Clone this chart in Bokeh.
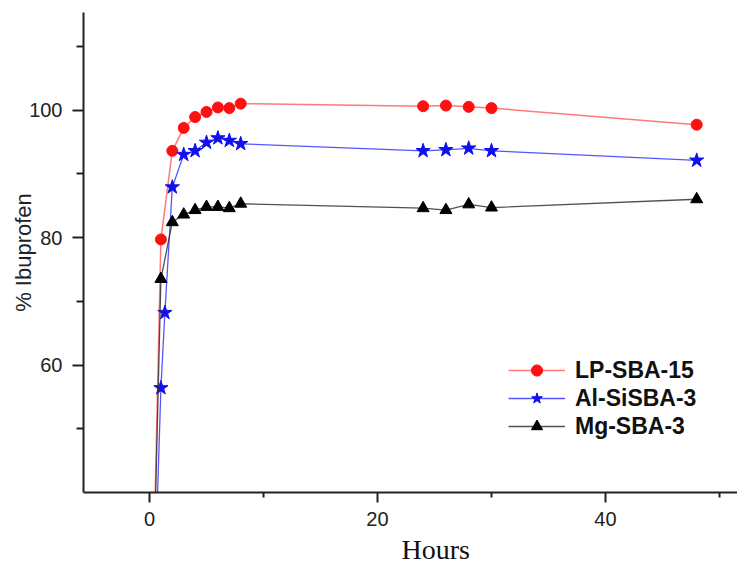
from bokeh.plotting import figure
from bokeh.models import Range1d, FixedTicker, Legend, LegendItem, Title
from bokeh.embed import file_html
from bokeh.resources import INLINE

# ---- data ----
hours_lp = [0, 1, 2, 3, 4, 5, 6, 7, 8, 24, 26, 28, 30, 48]
lp_sba15 = [0, 79.7, 93.6, 97.2, 98.9, 99.7, 100.4, 100.3, 101.0, 100.6, 100.7, 100.5, 100.3, 97.7]

hours_al = [0, 1, 1.35, 2, 3, 4, 5, 6, 7, 8, 24, 26, 28, 30, 48]
al_sisba3 = [0, 56.4, 68.2, 87.9, 93.0, 93.6, 94.9, 95.6, 95.2, 94.7, 93.6, 93.75, 94.0, 93.6, 92.1]

hours_mg = [0, 1, 2, 3, 4, 5, 6, 7, 8, 24, 26, 28, 30, 48]
mg_sba3 = [0, 73.5, 82.4, 83.6, 84.3, 84.8, 84.8, 84.6, 85.3, 84.6, 84.3, 85.2, 84.7, 86.0]

x_major = [0, 20, 40]
x_minor = [10, 30, 50]
y_major = [60, 80, 100]
y_minor = [50, 70, 90, 110]

# ---- figure ----
p = figure(width=737, height=567, output_backend="svg", toolbar_location=None,
           x_range=Range1d(-5.79, 51.58), y_range=Range1d(40, 115.3),
           min_border_left=83, min_border_top=12, min_border_right=0, min_border_bottom=73)
p.outline_line_color = None
p.grid.visible = False
p.background_fill_color = "white"

r_line = p.line(hours_lp, lp_sba15, line_color="#ff5a5a", line_width=1.5, line_alpha=0.8)
r_pts = p.scatter(hours_lp, lp_sba15, marker="circle", size=11, fill_color="#ff1010", line_color="#ff1010")

b_line = p.line(hours_al, al_sisba3, line_color="#2a2aff", line_width=1.3, line_alpha=0.8)
b_pts = p.scatter(hours_al, al_sisba3, marker="star", size=15, fill_color="#1010ee", line_color="#1010ee")

k_line = p.line(hours_mg, mg_sba3, line_color="#333333", line_width=1.3, line_alpha=0.85)
k_pts = p.scatter(hours_mg, mg_sba3, marker="triangle", size=12, fill_color="#000000", line_color="#000000")

for ax in (p.xaxis[0], p.yaxis[0]):
    ax.axis_line_width = 2
    ax.axis_line_color = "#222222"
    ax.major_tick_line_color = "#222222"
    ax.minor_tick_line_color = "#222222"
    ax.major_tick_line_width = 2
    ax.minor_tick_line_width = 2
    ax.major_tick_in = 0
    ax.minor_tick_in = 0
    ax.major_label_text_font = "Liberation Sans"
    ax.major_label_text_font_size = "20px"
    ax.major_label_text_color = "#222222"

p.xaxis.ticker = FixedTicker(ticks=x_major, minor_ticks=x_minor)
p.yaxis.ticker = FixedTicker(ticks=y_major, minor_ticks=y_minor)
p.xaxis.major_tick_out = 10
p.xaxis.minor_tick_out = 5
p.yaxis.major_tick_out = 11
p.yaxis.minor_tick_out = 7
p.xaxis.major_label_standoff = 9
p.yaxis.major_label_standoff = 10

p.yaxis.axis_label = "% Ibuprofen"
p.yaxis.axis_label_text_font = "Liberation Sans"
p.yaxis.axis_label_text_font_size = "22px"
p.yaxis.axis_label_text_font_style = "normal"
p.yaxis.axis_label_text_color = "#222222"
p.yaxis.axis_label_standoff = -10

t = Title(text="Hours", align="left", offset=318, text_font="Liberation Serif",
          text_font_size="28px", text_font_style="normal", text_color="#111111", standoff=6)
p.add_layout(t, "below")

legend = Legend(items=[LegendItem(label="LP-SBA-15", renderers=[r_line, r_pts]),
                       LegendItem(label="Al-SiSBA-3", renderers=[b_line, b_pts]),
                       LegendItem(label="Mg-SBA-3", renderers=[k_line, k_pts])],
                location=(425, 52), glyph_width=57, glyph_height=28, label_height=28,
                spacing=0, padding=0, margin=0, label_standoff=10,
                label_text_font="Liberation Sans", label_text_font_size="23px",
                label_text_font_style="bold", label_text_color="#111111",
                border_line_color=None, background_fill_alpha=0)
p.add_layout(legend)

open("out.html", "w").write(file_html(p, INLINE))
